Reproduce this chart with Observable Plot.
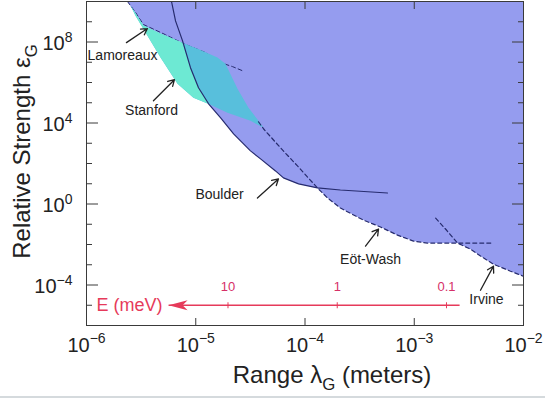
<!DOCTYPE html>
<html><head><meta charset="utf-8">
<script src="https://cdn.jsdelivr.net/npm/d3@7"></script>
<script src="https://cdn.jsdelivr.net/npm/@observablehq/plot@0.6"></script>
<style>
body{margin:0;background:#fff;}
#chart svg{display:block}
.bar{height:2px;background:#d5dadd}
</style></head><body><div id="chart"></div><div class="bar"></div>
<script>
// ---- data (range λ in meters, strength ε) ----
const xDecades = [1e-6, 1e-5, 1e-4, 1e-3, 1e-2];
const xInner = [1e-5, 1e-4, 1e-3];
const yMajor = [1e-4, 1, 1e4, 1e8];
const yMinor = [1e-5, 1e-3, 1e-2, 1e-1, 10, 100, 1e3, 1e5, 1e6, 1e7, 1e9];

const excluded = [
  [2.37e-6,1e10],[3.32e-6,6.5e8],[4.76e-6,2.6e8],[7.56e-6,9.3e7],[8.95e-6,5.4e6],[1.06e-5,5.5e5],
  [1.31e-5,8.9e4],[1.69e-5,1.8e4],[2.22e-5,2.9e3],[3.17e-5,421],[3.92e-5,169],[5.37e-5,43],
  [6.35e-5,19.4],[8.73e-5,9.8],[1.30e-4,6.2],[1.61e-4,1.98],[2.11e-4,0.63],[3.43e-4,0.16],
  [4.91e-4,0.073],[7.03e-4,0.029],[9.84e-4,0.0147],[1.32e-3,0.0117],[2.49e-3,0.0117],
  [3.27e-3,0.0059],[4.04e-3,0.0027],[5.31e-3,0.00107],[7.60e-3,4.8e-4],[1e-2,2.7e-4],[1e-2,1e10]
];
const stanford = [
  [2.53e-6,6.3e9],[3.32e-6,6.5e8],[4.76e-6,2.6e8],[7.56e-6,9.3e7],[1.04e-5,4.7e7],[1.58e-5,1.7e7],
  [1.87e-5,8.5e6],[2.41e-5,4.9e5],[3.04e-5,5.6e4],[3.75e-5,1.28e4],[4.17e-5,5.8e3],
  [3.17e-5,1.28e4],[1.95e-5,3.2e4],[1.36e-5,8.0e4],[9.53e-6,1.77e5],[6.81e-6,8.7e5],
  [4.76e-6,1.7e7],[3.26e-6,5.2e8],[2.81e-6,2.0e9]
];
const stanfordOutside = [
  [2.53e-6,6.3e9],[3.32e-6,6.5e8],[4.76e-6,2.6e8],[7.56e-6,9.3e7],[8.95e-6,5.4e6],[1.06e-5,5.5e5],
  [1.31e-5,8.9e4],[9.53e-6,1.77e5],[6.81e-6,8.7e5],[4.76e-6,1.7e7],[3.26e-6,5.2e8],[2.81e-6,2.0e9]
];
const boulder = [
  [6.00e-6,1e10],[6.53e-6,1.1e9],[7.56e-6,1.17e8],[8.95e-6,5.4e6],[1.06e-5,5.5e5],[1.31e-5,8.9e4],
  [1.69e-5,1.8e4],[2.22e-5,2.9e3],[3.17e-5,421],[3.92e-5,169],[5.37e-5,43],[6.35e-5,19.4],
  [8.73e-5,9.8],[1.30e-4,6.2],[2.11e-4,4.9],[5.69e-4,3.5]
];
const lamoreaux = [
  [2.37e-6,1e10],[2.81e-6,2.9e9],[3.32e-6,7.3e8],[5.28e-6,2.3e8],[7.72e-6,8.3e7],
  [1.23e-5,3.0e7],[1.69e-5,9.5e6],[2.17e-5,6.1e6],[2.68e-5,3.8e6]
];
const eotWash = [
  [3.75e-5,1.15e4],[4.17e-5,5.2e3],[5.97e-5,592],[8.53e-5,76],[1.30e-4,6.2],[1.61e-4,1.98],
  [2.11e-4,0.63],[3.43e-4,0.16],[4.91e-4,0.073],[7.03e-4,0.029],[9.84e-4,0.0147],
  [1.32e-3,0.0117],[2.49e-3,0.0117],[5.31e-3,0.0117]
];
const irvine = [
  [1.57e-3,0.20],[1.97e-3,0.052],[2.49e-3,0.0117],[3.27e-3,0.0059],[4.04e-3,0.0027],
  [5.31e-3,0.00107],[7.60e-3,4.8e-4],[1e-2,2.7e-4]
];
const labels = [
  {name:"Lamoreaux", x:2.14e-6, y:2.1e7},
  {name:"Stanford",  x:3.94e-6, y:4.0e4},
  {name:"Boulder",   x:1.65e-5, y:3.1},
  {name:"Eöt-Wash",  x:3.98e-4, y:1.9e-3},
  {name:"Irvine",    x:4.58e-3, y:1.98e-5}
];
const pointers = [
  {x1:2.32e-6, y1:9.3e7,  x2:3.61e-6, y2:4.6e8},
  {x1:4.10e-6, y1:1.26e5, x2:6.38e-6, y2:1.38e6},
  {x1:3.67e-5, y1:1.98,   x2:5.71e-5, y2:17.3},
  {x1:3.58e-4, y1:8.3e-3, x2:4.71e-4, y2:0.058},
  {x1:4.04e-3, y1:5.5e-5, x2:5.31e-3, y2:8.5e-4}
];
const energyTicks = [10, 1, 0.1];      // meV
const HBARC = 1.973e-4;                 // meV·m
const arrowY = 1e-5;
const arrowTip = 5.64e-6, arrowEnd = 2.6e-3;

// ---- styles ----
const BLUE = "#959cef", TEAL = "#58bfdc", CYAN = "#6de9d3";
const CURVE = "#262b6e", RED = "#e63a5a", RED2 = "#d63068", INK = "#222";
const FONT = "Liberation Sans, Arial, Helvetica, sans-serif";
const P = a => a.map(([x, y]) => ({x, y}));
const sup = d => `10^{${String(Math.round(Math.log10(d))).replace("-", "−")}}`;

const headSym = {draw(c){ c.moveTo(0,0); c.lineTo(19,-5); c.lineTo(14,0); c.lineTo(19,5); c.closePath(); }};
const vTick = {draw(c){ c.moveTo(0,-3); c.lineTo(0,3); }};

const plot = Plot.plot({
  width: 545, height: 396,
  marginTop: 1, marginRight: 22, marginBottom: 71, marginLeft: 86,
  style: {fontFamily: FONT, color: INK, background: "#fff"},
  x: {type: "log", domain: [1e-6, 1e-2], label: null},
  y: {type: "log", domain: [1e-6, 1e10], label: null},
  marks: [
    Plot.line(P(excluded), {x: "x", y: "y", fill: BLUE, stroke: "none", clip: true}),
    Plot.line(P(lamoreaux), {x: "x", y: "y", stroke: CURVE, strokeWidth: 1, strokeDasharray: "4,3", clip: true}),
    Plot.line(P(stanford), {x: "x", y: "y", fill: TEAL, stroke: "none", clip: true}),
    Plot.line(P(stanfordOutside), {x: "x", y: "y", fill: CYAN, stroke: "none", clip: true}),
    Plot.line(P(eotWash), {x: "x", y: "y", stroke: CURVE, strokeWidth: 1.2, strokeDasharray: "4,3", clip: true}),
    Plot.line(P(irvine), {x: "x", y: "y", stroke: CURVE, strokeWidth: 1.2, strokeDasharray: "4,3", clip: true}),
    Plot.line(P(boulder), {x: "x", y: "y", stroke: CURVE, strokeWidth: 1.2, clip: true}),
    Plot.frame({stroke: "#3a3a3a", strokeWidth: 1}),
    // inward ticks
    Plot.axisX({anchor: "bottom", ticks: xInner, tickSize: 7, dy: -7, tickFormat: () => "", label: null, stroke: "#3a3a3a"}),
    Plot.axisX({anchor: "top", ticks: xInner, tickSize: 7, dy: 7, tickFormat: () => "", label: null, stroke: "#3a3a3a"}),
    Plot.axisY({anchor: "left", ticks: yMajor, tickSize: 12, dx: 12, tickFormat: () => "", label: null, stroke: "#3a3a3a"}),
    Plot.axisY({anchor: "left", ticks: yMinor, tickSize: 6, dx: 6, tickFormat: () => "", label: null, stroke: "#3a3a3a"}),
    Plot.axisY({anchor: "right", ticks: yMajor, tickSize: 12, dx: -12, tickFormat: () => "", label: null, stroke: "#3a3a3a"}),
    Plot.axisY({anchor: "right", ticks: yMinor, tickSize: 6, dx: -6, tickFormat: () => "", label: null, stroke: "#3a3a3a"}),
    // tick labels
    Plot.axisX({anchor: "bottom", ticks: xDecades, tickSize: 0, tickPadding: 12, tickFormat: sup, fontSize: 20, label: null}),
    Plot.axisY({anchor: "left", ticks: yMajor, tickSize: 0, tickPadding: 14, tickFormat: sup, fontSize: 20, label: null, dy: 2}),
    // titles
    Plot.text(["Relative Strength ε_{G}"], {text: d => d, frameAnchor: "left", dx: -64, dy: -12, rotate: -90, textAnchor: "middle", lineAnchor: "middle", fontSize: 24, fill: INK}),
    Plot.text(["Range λ_{G} (meters)"], {text: d => d, frameAnchor: "bottom", dx: 27, dy: 50, textAnchor: "middle", lineAnchor: "middle", fontSize: 24, fill: INK}),
    // energy arrow
    Plot.link([{x1: arrowTip, x2: arrowEnd, y: arrowY}], {x1: "x1", x2: "x2", y1: "y", y2: "y", stroke: RED, strokeWidth: 1.6}),
    Plot.dot([{x: arrowTip, y: arrowY}], {x: "x", y: "y", symbol: headSym, fill: RED, stroke: "none"}),
    Plot.dot(energyTicks, {x: d => HBARC / d, y: () => arrowY, symbol: vTick, stroke: RED, fill: "none", strokeWidth: 1}),
    Plot.text(energyTicks, {x: d => HBARC / d, y: () => arrowY, text: d => String(d), dy: -18, fill: RED2, fontSize: 13}),
    Plot.text([{x: arrowTip, y: arrowY}], {x: "x", y: "y", text: () => "E (meV)", textAnchor: "end", dx: -6, fill: RED, fontSize: 18}),
    // annotations
    Plot.arrow(pointers, {x1: "x1", y1: "y1", x2: "x2", y2: "y2", stroke: INK, strokeWidth: 1.3, headLength: 8}),
    Plot.text(labels, {x: "x", y: "y", text: "name", fontSize: 14, fill: INK})
  ]
});
document.getElementById("chart").appendChild(plot);

// superscripts / subscripts as real tspans
(function richify(svg){
  const ns = "http://www.w3.org/2000/svg";
  svg.querySelectorAll("text").forEach(el => {
    const s = el.textContent;
    if (!/[\^_]\{/.test(s)) return;
    const fs = parseFloat(getComputedStyle(el).fontSize) || 16;
    el.textContent = "";
    const add = (txt, dy, size) => {
      const t = document.createElementNS(ns, "tspan");
      t.textContent = txt;
      if (Math.abs(dy) > 0.01) t.setAttribute("dy", dy.toFixed(2));
      if (size) t.setAttribute("font-size", size.toFixed(1));
      el.appendChild(t);
    };
    const re = /([\^_])\{([^}]*)\}/g;
    let last = 0, m, shift = 0;
    while ((m = re.exec(s))) {
      if (m.index > last) { add(s.slice(last, m.index), -shift); shift = 0; }
      const d = m[1] === "^" ? -0.42 * fs : 0.28 * fs;
      add(m[2], d - shift, fs * 0.7);
      shift = d;
      last = re.lastIndex;
    }
    if (last < s.length) add(s.slice(last), -shift);
  });
})(plot);
</script></body></html>
